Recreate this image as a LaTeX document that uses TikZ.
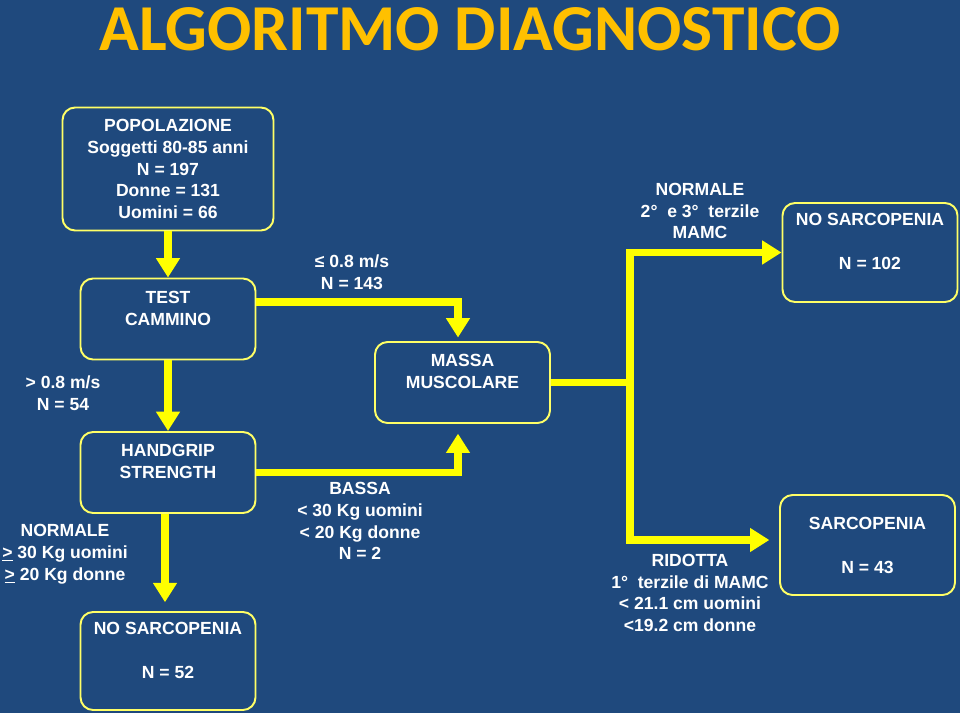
\documentclass[tikz,border=0pt]{standalone}
\usepackage{fontspec}
\setmainfont{Liberation Sans}
\newfontfamily\titlefont{Carlito}
\usepackage{xcolor}
\usetikzlibrary{arrows.meta, positioning, calc}

\definecolor{bgblue}{HTML}{1F497D}
\definecolor{titlegold}{HTML}{FFC000}
\definecolor{boxline}{HTML}{FFFF66}
\definecolor{arrowyellow}{HTML}{FFFF00}

\tikzset{
  txt/.style={text=white, font=\fontsize{10}{12.4}\selectfont\bfseries, align=center},
  stagebox/.style={txt, draw=boxline, line width=1.1pt, rounded corners=0.25cm,
                   minimum width=3.5cm, minimum height=1.62cm, inner sep=0pt},
  flow/.style={draw=arrowyellow, line width=4pt, line join=miter,
               -{Triangle[length=11pt, width=13pt]}}
}

\begin{document}
\begin{tikzpicture}[x=0.02cm, y=-0.02cm]
      \fill[bgblue] (0, 0) rectangle (960, 713);
      \useasboundingbox (0, 0) rectangle (960, 713);

      \node[text=titlegold, font=\titlefont\fontsize{37.3}{40}\selectfont\bfseries] (title) at (470, 29) {ALGORITMO DIAGNOSTICO};

      % boxes
      \node[stagebox, minimum width=4.22cm, minimum height=2.46cm] (pop) at (168, 169)
        {POPOLAZIONE\\Soggetti 80-85 anni\\N = 197\\Donne = 131\\Uomini = 66};
      \node[stagebox] (test) at (168, 319) {TEST\\CAMMINO\\~};
      \node[stagebox] (massa) at (462.5, 382.5) {MASSA\\MUSCOLARE\\~};
      \node[stagebox] (hand) at (168, 472.5) {HANDGRIP\\STRENGTH\\~};
      \node[stagebox, minimum height=1.98cm] (nos1) at (870, 252.5) {NO SARCOPENIA\\[12.6pt]N = 102\\~};
      \node[stagebox, minimum height=1.96cm] (nos2) at (168, 661) {NO SARCOPENIA\\[12.6pt]N = 52\\~};
      \node[stagebox, minimum height=2cm] (sarc) at (867.5, 545) {SARCOPENIA\\[12.6pt]N = 43};

      % labels
      \node[txt] (slow) at (352, 272) {≤ 0.8 m/s\\N = 143};
      \node[txt] (fast) at (63, 393) {> 0.8 m/s\\N = 54};
      \node[txt] (normmamc) at (700, 211) {NORMALE\\2°~ e 3°~ terzile\\MAMC};
      \node[txt] (bassa) at (360, 521) {BASSA\\< 30 Kg uomini\\< 20 Kg donne\\N = 2};
      \node[txt] (normgrip) at (65, 554) {NORMALE\\\underline{>} 30 Kg uomini\\\underline{>} 20 Kg donne};
      \node[txt] (ridotta) at (690, 593) {RIDOTTA\\1°~ terzile di MAMC\\< 21.1 cm uomini\\<19.2 cm donne};

      \coordinate (fork) at (630, 387);

      % connectors
      \draw[flow] (pop) -- (test);
      \draw[flow, shorten >=2pt] ([yshift=0.34cm]test.east) -| ([xshift=-0.09cm]massa.north);
      \draw[flow] (test) -- (hand);
      \draw[flow, shorten >=5.5pt] (hand.east) -| ([xshift=-0.09cm]massa.south);
      \draw[flow, shorten >=5pt] ([xshift=-0.06cm]hand.south) -- ([xshift=-0.06cm]nos2.north);
      \draw[flow] (massa.east) -- (massa.east -| fork) |- (nos1.west);
      \draw[flow, shorten >=5.5pt] (massa.east) -- (massa.east -| fork) |- ([yshift=0.1cm]sarc.west);

    \end{tikzpicture}
\end{document}
